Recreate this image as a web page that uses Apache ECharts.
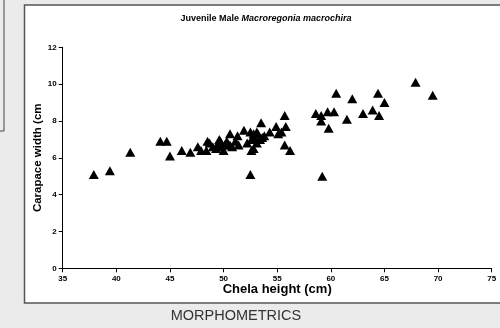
<!DOCTYPE html>
<html>
<head>
<meta charset="utf-8">
<script src="https://cdn.jsdelivr.net/npm/echarts@6/dist/echarts.min.js"></script>
<style>
html,body{margin:0;padding:0;background:#ebebeb;}
#c{width:500px;height:328px;}
</style>
</head>
<body>
<div id="c"></div>
<script>
const titlePlain = 'Juvenile Male ';
const titleItalic = 'Macroregonia macrochira';
const xName = 'Chela height (cm)';
const yName = 'Carapace width (cm';
const footer = 'MORPHOMETRICS';
const xTicks = [35, 40, 45, 50, 55, 60, 65, 70, 75];
const yTicks = [0, 2, 4, 6, 8, 10, 12];
const chelaHeight = [37.9,39.4,41.3,44.1,44.7,45.0,46.1,46.9,47.6,47.9,48.4,48.5,48.7,49.0,49.3,49.4,49.6,49.7,49.8,50.0,50.1,50.3,50.6,50.6,50.8,51.1,51.3,51.4,51.9,52.2,52.5,52.5,52.6,52.6,52.8,52.8,52.9,53.1,53.1,53.2,53.4,53.5,53.6,53.8,54.3,54.9,55.1,55.4,55.7,55.7,55.8,56.2,58.6,59.1,59.1,59.2,59.7,59.8,60.3,60.5,61.5,62.0,63.0,63.9,64.4,64.5,65.0,67.9,69.5];
const carapaceWidth = [5.1,5.3,6.3,6.9,6.9,6.1,6.4,6.3,6.6,6.4,6.4,6.9,6.8,6.6,6.5,6.7,7.0,6.9,6.6,6.4,6.7,6.9,6.7,7.3,6.6,6.9,7.2,6.7,7.5,6.8,7.4,5.1,7.0,6.4,6.5,7.3,7.1,6.8,7.4,7.3,7.0,7.9,7.1,7.2,7.4,7.7,7.3,7.4,8.3,6.7,7.7,6.4,8.4,8.3,8.0,5.0,8.5,7.6,8.5,9.5,8.1,9.2,8.4,8.6,9.5,8.3,9.0,10.1,9.4];

const points = chelaHeight.map((x, i) => [x, carapaceWidth[i]]);
const chart = echarts.init(document.getElementById('c'), null, {renderer: 'canvas'});
const ff = '"Liberation Sans", Arial, sans-serif';
chart.setOption({
  backgroundColor: '#ebebeb',
  animation: false,
  graphic: [
    {type: 'rect', shape: {x: 24.5, y: 5, width: 490, height: 298}, style: {fill: '#ffffff', stroke: '#555555', lineWidth: 1.5}, z: -10},
    {type: 'polyline', shape: {points: [[4, 0], [4, 131], [0, 131]]}, style: {stroke: '#444444', lineWidth: 1, fill: null}, z: -10},
    {type: 'text', x: 266, y: 19, style: {
      text: '{a|' + titlePlain + '}{b|' + titleItalic + '}',
      align: 'center', verticalAlign: 'middle',
      rich: {
        a: {fontFamily: ff, fontSize: 9, fontWeight: 'bold', fill: '#000'},
        b: {fontFamily: ff, fontSize: 9, fontWeight: 'bold', fontStyle: 'italic', fill: '#000'}
      }
    }},
    {type: 'text', x: 236, y: 316, style: {text: footer, align: 'center', verticalAlign: 'middle', fontFamily: ff, fontSize: 14.5, fill: '#333333'}}
  ],
  grid: {left: 62.7, right: 8.3, top: 47.3, bottom: 59.7, containLabel: false},
  xAxis: {
    type: 'value', min: xTicks[0], max: xTicks[xTicks.length - 1], interval: xTicks[1] - xTicks[0],
    name: xName, nameLocation: 'middle', nameGap: 15, nameMoveOverlap: false,
    nameTextStyle: {fontFamily: ff, fontSize: 13, fontWeight: 'bold', color: '#000'},
    axisLine: {show: true, lineStyle: {color: '#000', width: 1}},
    axisTick: {show: true, inside: false, length: 4, lineStyle: {color: '#000'}},
    axisLabel: {fontFamily: ff, fontSize: 8, fontWeight: 'bold', color: '#000', margin: 6},
    splitLine: {show: false}
  },
  yAxis: {
    type: 'value', min: yTicks[0], max: yTicks[yTicks.length - 1], interval: yTicks[1] - yTicks[0],
    name: yName, nameLocation: 'middle', nameGap: 19, nameRotate: 90, nameMoveOverlap: false,
    nameTextStyle: {fontFamily: ff, fontSize: 11.5, fontWeight: 'bold', color: '#000'},
    axisLine: {show: true, lineStyle: {color: '#000', width: 1}},
    axisTick: {show: true, inside: false, length: 4, lineStyle: {color: '#000'}},
    axisLabel: {fontFamily: ff, fontSize: 8, fontWeight: 'bold', color: '#000', margin: 6},
    splitLine: {show: false}
  },
  series: [{
    type: 'scatter',
    data: points,
    symbol: 'triangle',
    symbolSize: [10, 9],
    itemStyle: {color: '#000000', opacity: 1}
  }]
});
</script>
</body>
</html>
